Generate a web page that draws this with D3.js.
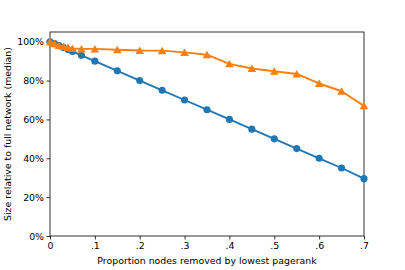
<!DOCTYPE html>
<html>
<head>
<meta charset="utf-8">
<script src="https://cdn.jsdelivr.net/npm/d3@7"></script>
<style>
  body { margin: 0; background: #fff; }
  svg { display: block; font-family: "DejaVu Sans", sans-serif; }
</style>
</head>
<body>
<svg id="chart" width="405" height="270"></svg>
<script>
// proportion of nodes removed
var proportions = [0, .01, .02, .03, .04, .05, .07, .1, .15, .2, .25, .3, .35, .4, .45, .5, .55, .6, .65, .7];
// blue series (circles)
var blueValues = [1.0, .99, .98, .97, .96, .95, .93, .90, .85, .80, .75, .70, .65, .60, .55, .50, .45, .40, .35, .295];
// orange series (triangles)
var orangeValues = [1.0, .99, .98, .975, .97, .965, .963, .963, .959, .955, .954, .945, .933, .886, .862, .848, .834, .785, .745, .67];
var xTicks = [0, .1, .2, .3, .4, .5, .6, .7];
var yTicks = [0, .2, .4, .6, .8, 1.0];

var width = 405, height = 270;
var margin = { left: 50, right: 41, top: 32, bottom: 34 };
var svg = d3.select('#chart');

var x = d3.scaleLinear().domain([0, .7]).range([margin.left, width - margin.right]);
var y = d3.scaleLinear().domain([0, 1.05]).range([height - margin.bottom, margin.top]);

var fontSize = 9.4;

// 坐标轴
var xAxis = d3.axisBottom(x).tickValues(xTicks).tickSizeOuter(0).tickSize(3.5).tickPadding(2.5)
    .tickFormat(function (d) { return d === 0 ? '0' : d3.format('.1f')(d).replace(/^0/, ''); });
var yAxis = d3.axisLeft(y).tickValues(yTicks).tickSizeOuter(0).tickSize(3.5).tickPadding(2.5)
    .tickFormat(d3.format('.0%'));

var gx = svg.append('g')
    .attr('transform', 'translate(0,' + (height - margin.bottom) + ')')
    .call(xAxis);
var gy = svg.append('g')
    .attr('transform', 'translate(' + margin.left + ',0)')
    .call(yAxis);

[gx, gy].forEach(function (g) {
    g.select('.domain').remove();
    g.selectAll('line').attr('stroke', '#000').attr('stroke-width', 0.8);
    g.selectAll('text').attr('fill', '#000').attr('font-size', fontSize)
        .attr('font-family', '"DejaVu Sans", sans-serif');
});

// 边框
svg.append('rect')
    .attr('x', margin.left)
    .attr('y', margin.top)
    .attr('width', width - margin.left - margin.right)
    .attr('height', height - margin.top - margin.bottom)
    .attr('fill', 'none')
    .attr('stroke', '#000')
    .attr('stroke-width', 0.8);

var marks = svg.append('g');

function renderSeries(values, color, marker) {
    var pts = proportions.map(function (p, i) { return [p, values[i]]; });
    var line = d3.line().x(function (d) { return x(d[0]); }).y(function (d) { return y(d[1]); });
    marks.append('path')
        .attr('d', line(pts))
        .attr('fill', 'none')
        .attr('stroke', color)
        .attr('stroke-width', 1.9)
        .attr('stroke-linejoin', 'round');
    var sym = d3.symbol().type(marker).size(marker === d3.symbolCircle ? 40 : 32);
    marks.selectAll(null)
        .data(pts)
        .enter()
        .append('path')
        .attr('d', sym)
        .attr('transform', function (d) {
            var dy = marker === d3.symbolTriangle ? 1 : 0;
            return 'translate(' + x(d[0]) + ',' + (y(d[1]) + dy) + ')';
        })
        .attr('fill', color);
}

renderSeries(blueValues, '#1f77b4', d3.symbolCircle);
renderSeries(orangeValues, '#ff7f0e', d3.symbolTriangle);

// 轴标题
svg.append('text')
    .attr('x', (margin.left + width - margin.right) / 2)
    .attr('y', height - 6)
    .attr('text-anchor', 'middle')
    .attr('font-size', fontSize)
    .text('Proportion nodes removed by lowest pagerank');

svg.append('text')
    .attr('transform', 'translate(11,' + ((margin.top + height - margin.bottom) / 2) + ') rotate(-90)')
    .attr('text-anchor', 'middle')
    .attr('font-size', fontSize)
    .text('Size relative to full network (median)');
</script>
</body>
</html>
